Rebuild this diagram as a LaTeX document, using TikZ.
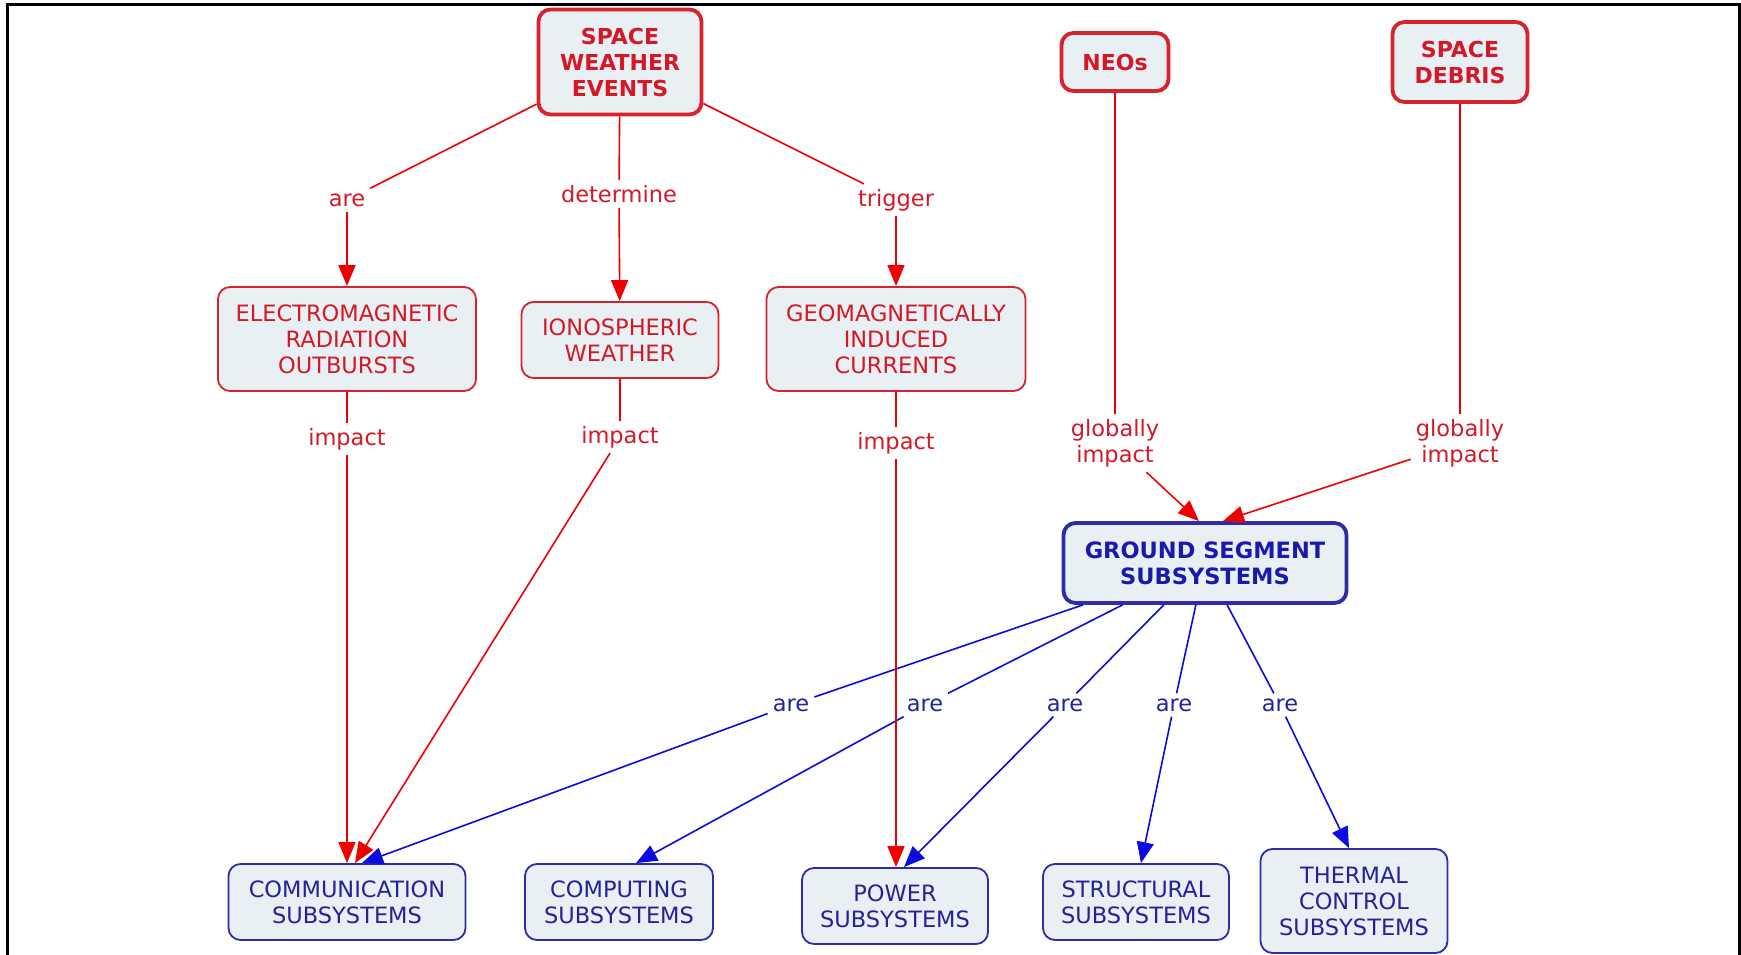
\documentclass[tikz,border=0pt]{standalone}
\usepackage{fontspec}
\setmainfont{DejaVu Sans}
\usetikzlibrary{arrows.meta}
\definecolor{redtxt}{RGB}{210,25,40}
\definecolor{redline}{RGB}{215,35,45}
\definecolor{redarrow}{RGB}{238,0,0}
\definecolor{bluetxt}{RGB}{35,35,150}
\definecolor{bluebold}{RGB}{25,25,175}
\definecolor{blueline}{RGB}{45,45,170}
\definecolor{bluearrow}{RGB}{10,10,225}
\definecolor{boxfill}{RGB}{233,240,243}
\begin{document}
\begin{tikzpicture}[x=1pt,y=-1pt,
  txt/.style={font=\fontsize{22.5}{26}\selectfont},
  concept/.style={txt, draw, rounded corners=12pt, fill=boxfill, align=center, inner sep=0pt},
  redbox/.style={concept, draw=redline, text=redtxt, line width=1.8pt},
  redmain/.style={redbox, line width=3.8pt, font=\fontsize{22}{26}\selectfont\bfseries},
  bluebox/.style={concept, draw=blueline, text=bluetxt, line width=1.8pt},
  bluemain/.style={bluebox, line width=3.8pt, text=bluebold, font=\fontsize{22.5}{26}\selectfont\bfseries},
  lbl/.style={txt, inner sep=5pt, align=center},
  redlbl/.style={lbl, text=redtxt},
  bluelbl/.style={lbl, text=bluetxt},
  redcon/.style={draw=redarrow, line width=1.6pt},
  redarr/.style={redcon, -{Triangle[length=21pt,width=17pt]}},
  bluecon/.style={draw=bluearrow, line width=1.6pt},
  bluearr/.style={bluecon, -{Triangle[length=21pt,width=17pt]}}
]
\useasboundingbox (0,0) rectangle (1741,955);
\draw[line width=3pt] (7,956) -- (7,5) -- (1739,5) -- (1739,956);

% concepts
\node[redmain, minimum width=163pt, minimum height=105pt] (swe) at (620,62) {SPACE\\WEATHER\\EVENTS};
\node[redmain, minimum width=107pt, minimum height=58pt] (neo) at (1115,62) {NEOs};
\node[redmain, minimum width=135pt, minimum height=80pt] (deb) at (1460,62) {SPACE\\DEBRIS};
\node[redbox, minimum width=258pt, minimum height=104pt] (emr) at (347,339) {ELECTROMAGNETIC\\RADIATION\\OUTBURSTS};
\node[redbox, minimum width=197pt, minimum height=76pt] (iw) at (620,340) {IONOSPHERIC\\WEATHER};
\node[redbox, minimum width=259pt, minimum height=104pt] (gic) at (896,339) {GEOMAGNETICALLY\\INDUCED\\CURRENTS};
\node[bluemain, minimum width=283pt, minimum height=80pt] (gss) at (1205,563) {GROUND SEGMENT\\SUBSYSTEMS};
\node[bluebox, minimum width=237pt, minimum height=76pt] (comm) at (347,902) {COMMUNICATION\\SUBSYSTEMS};
\node[bluebox, minimum width=188pt, minimum height=76pt] (comp) at (619,902) {COMPUTING\\SUBSYSTEMS};
\node[bluebox, minimum width=186pt, minimum height=76pt] (pow) at (895,906) {POWER\\SUBSYSTEMS};
\node[bluebox, minimum width=186pt, minimum height=76pt] (str) at (1136,902) {STRUCTURAL\\SUBSYSTEMS};
\node[bluebox, minimum width=187pt, minimum height=104pt] (thm) at (1354,901) {THERMAL\\CONTROL\\SUBSYSTEMS};

% link labels
\node[redlbl] (l1) at (347,200) {are};
\node[redlbl] (l2) at (619,194) {determine};
\node[redlbl] (l3) at (896,200) {trigger};
\node[redlbl] (l4) at (347,439) {impact};
\node[redlbl] (l5) at (620,437) {impact};
\node[redlbl] (l6) at (896,443) {impact};
\node[redlbl] (l7) at (1115,443) {globally\\impact};
\node[redlbl] (l8) at (1460,443) {globally\\impact};
\node[bluelbl] (b1) at (791,705) {are};
\node[bluelbl] (b2) at (925,705) {are};
\node[bluelbl] (b3) at (1065,705) {are};
\node[bluelbl] (b4) at (1174,705) {are};
\node[bluelbl] (b5) at (1280,705) {are};

% blue connectors
\draw[bluecon] (gss) -- (b1);
\draw[bluearr] (b1) -- ([xshift=15pt]comm.north);
\draw[bluecon] (gss) -- (b2);
\draw[bluearr] (b2) -- ([xshift=17pt]comp.north);
\draw[bluecon] (gss) -- (b3);
\draw[bluearr] (b3) -- ([xshift=9pt]pow.north);
\draw[bluecon] (gss) -- (b4);
\draw[bluearr] (b4) -- ([xshift=5pt]str.north);
\draw[bluecon] (gss) -- (b5);
\draw[bluearr] (b5) -- ([xshift=-5pt]thm.north);

% red connectors
\draw[redcon] (swe) -- (l1);
\draw[redarr] (l1) -- (emr);
\draw[redcon] (swe) -- (l2);
\draw[redarr] (l2) -- (iw);
\draw[redcon] (swe) -- (l3);
\draw[redarr] (l3) -- (gic);
\draw[redcon] (emr) -- (l4);
\draw[redarr] (l4) -- (comm.north);
\draw[redcon] (iw) -- (l5);
\draw[redarr] (l5) -- ([xshift=8pt]comm.north);
\draw[redcon] (gic) -- (l6);
\draw[redarr] (l6) -- ([xshift=1pt]pow.north);
\draw[redcon] (neo) -- (l7);
\draw[redarr] (l7) -- ([xshift=-6pt]gss.north);
\draw[redcon] (deb) -- (l8);
\draw[redarr] (l8) -- ([xshift=18pt]gss.north);
\end{tikzpicture}
\end{document}
